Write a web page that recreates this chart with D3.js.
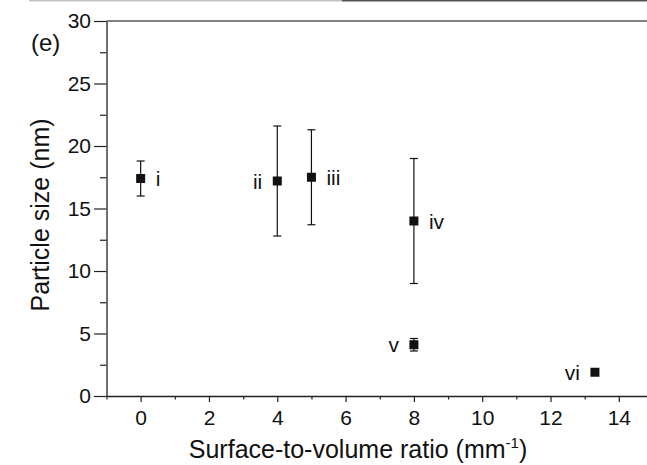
<!DOCTYPE html>
<html>
<head>
<meta charset="utf-8">
<script src="https://cdn.jsdelivr.net/npm/d3@7"></script>
<style>
  body { margin: 0; background: #fff; }
  svg { display: block; overflow: hidden; }
  text { font-family: "Liberation Sans", Arial, sans-serif; fill: #111; }
</style>
</head>
<body>
<div id="chart"></div>
<script>
// sample labels, surface-to-volume ratio (mm^-1), particle size (nm) with error range
const labels = ["i", "ii", "iii", "iv", "v", "vi"];
const ratio = [0, 4, 5, 8, 8, 13.3];
const size = [17.4, 17.2, 17.5, 14.0, 4.1, 1.9];
const errLow = [16.0, 12.8, 13.7, 9.0, 3.6, null];
const errHigh = [18.8, 21.6, 21.3, 19.0, 4.6, null];
const xTicks = [0, 2, 4, 6, 8, 10, 12, 14];
const xMinor = [-1, 1, 3, 5, 7, 9, 11, 13, 15];
const yTicks = [0, 5, 10, 15, 20, 25, 30];
const yMinor = [2.5, 7.5, 12.5, 17.5, 22.5, 27.5];

const width = 647;
const height = 465;

const data = labels.map((l, i) => ({
  label: l, x: ratio[i], y: size[i], lo: errLow[i], hi: errHigh[i]
}));

const svg = d3.select("#chart")
  .append("svg")
  .attr("width", width)
  .attr("height", height);

const x = d3.scaleLinear()
  .domain([-1, 15])
  .range([106.5, 653]);

const y = d3.scaleLinear()
  .domain([0, 30])
  .range([396, 21]);

// strip left over from the figure above
svg.append("rect").attr("x", 29).attr("y", 0).attr("width", 313).attr("height", 1.5).attr("fill", "#c4c4c4");
svg.append("rect").attr("x", 342).attr("y", 0).attr("width", 305).attr("height", 1.5).attr("fill", "#555");

// top frame line
svg.append("line")
  .attr("x1", x(-1)).attr("x2", width)
  .attr("y1", y(30)).attr("y2", y(30))
  .attr("stroke", "#555").attr("stroke-width", 1.5);

// minor ticks
svg.append("g")
  .attr("transform", `translate(0,${y(0)})`)
  .call(d3.axisBottom(x).tickValues(xMinor).tickSize(3.5).tickFormat(""))
  .call(g => g.select(".domain").remove());

svg.append("g")
  .attr("transform", `translate(${x(-1)},0)`)
  .call(d3.axisLeft(y).tickValues(yMinor).tickSize(6.5).tickFormat(""))
  .call(g => g.select(".domain").remove());

// main axes
const xAxis = svg.append("g")
  .attr("transform", `translate(0,${y(0)})`)
  .call(d3.axisBottom(x).tickValues(xTicks).tickSize(6).tickSizeOuter(0).tickPadding(8));

const yAxis = svg.append("g")
  .attr("transform", `translate(${x(-1)},0)`)
  .call(d3.axisLeft(y).tickValues(yTicks).tickSize(12.5).tickSizeOuter(0).tickPadding(3));

[xAxis, yAxis].forEach(g => {
  g.selectAll("text").attr("font-size", 21).attr("font-family", "Liberation Sans, Arial, sans-serif").attr("fill", "#111");
  g.select(".domain").attr("stroke", "#222").attr("stroke-width", 1.3);
});
svg.selectAll("g line").attr("stroke", "#222").attr("stroke-width", 1.2);

// error bars
const withErr = data.filter(d => d.lo != null);
const bars = svg.append("g").attr("stroke", "#111").attr("stroke-width", 1.2);
bars.selectAll(".v").data(withErr).join("line")
  .attr("x1", d => x(d.x)).attr("x2", d => x(d.x))
  .attr("y1", d => y(d.lo)).attr("y2", d => y(d.hi));
bars.selectAll(".top").data(withErr).join("line")
  .attr("x1", d => x(d.x) - 4).attr("x2", d => x(d.x) + 4)
  .attr("y1", d => y(d.hi)).attr("y2", d => y(d.hi));
bars.selectAll(".bot").data(withErr).join("line")
  .attr("x1", d => x(d.x) - 4).attr("x2", d => x(d.x) + 4)
  .attr("y1", d => y(d.lo)).attr("y2", d => y(d.lo));

// points
svg.append("g").selectAll("rect").data(data).join("rect")
  .attr("x", d => x(d.x) - 4.5)
  .attr("y", d => y(d.y) - 4.5)
  .attr("width", 9).attr("height", 9)
  .attr("fill", "#111");

// point labels
const leftSide = new Set(["ii", "v", "vi"]);
svg.append("g").selectAll("text").data(data).join("text")
  .attr("x", d => x(d.x) + (leftSide.has(d.label) ? -15 : 15))
  .attr("y", d => y(d.y) + 7.5)
  .attr("text-anchor", d => leftSide.has(d.label) ? "end" : "start")
  .attr("font-size", 21)
  .text(d => d.label);

// panel tag
svg.append("text").attr("x", 31).attr("y", 51).attr("font-size", 24).text("(e)");

// axis titles
const xt = svg.append("text")
  .attr("x", 358).attr("y", 458)
  .attr("text-anchor", "middle")
  .attr("font-size", 25)
  .text("Surface-to-volume ratio (mm");
xt.append("tspan").attr("font-size", 15).attr("dy", -10).text("-1");
xt.append("tspan").attr("dy", 10).text(")");

svg.append("text")
  .attr("transform", "translate(49,215) rotate(-90)")
  .attr("text-anchor", "middle")
  .attr("font-size", 25)
  .text("Particle size (nm)");
</script>
</body>
</html>
